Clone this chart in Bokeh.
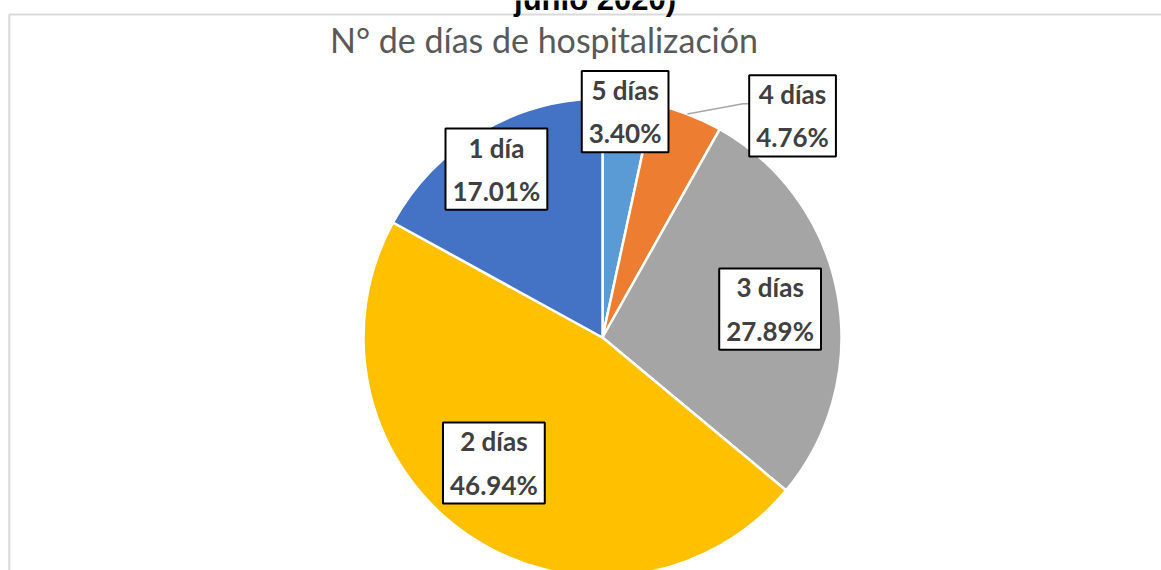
import numpy as np
from bokeh.plotting import figure
from bokeh.models import Range1d, ColumnDataSource
from bokeh.core.properties import value
from bokeh.embed import file_html
from bokeh.resources import INLINE

# ---------------- data ----------------
categories = ["5 días", "4 días", "3 días", "2 días", "1 día"]
percentages = [3.40, 4.76, 27.89, 46.94, 17.01]
colors = ["#5B9BD5", "#ED7D31", "#A5A5A5", "#FFC000", "#4472C4"]
chart_title = "N° de días de hospitalización"
cut_title = "junio 2020)"

# ---------------- layout ----------------
W, H = 1161, 570


def X(px):  # picture x -> data x
    return px


def Y(py):  # picture y -> data y
    return H - py


cx, cy, R = X(602), Y(337), 239
# label placement: distance from centre (px) and angle nudge (deg)
label_dist = [227, 292, 170, 166, 199]
label_nudge = [-0.4, 19.8, 0.8, 6.6, -1.6]

p = figure(width=W, height=H, output_backend="svg", toolbar_location=None,
           x_range=Range1d(0, W), y_range=Range1d(0, H), min_border=0)
p.axis.visible = False
p.grid.visible = False
p.outline_line_color = None
p.background_fill_color = "white"
p.border_fill_color = "white"

# chart-area border (left and top visible)
p.line(x=[X(8.8), X(8.8), 3000], y=[-100, Y(14), Y(14)], line_color="#D9D9D9", line_width=2)

# pie
frac = np.array(percentages) / sum(percentages)
cum = np.concatenate([[0.0], np.cumsum(frac)])
start = np.pi / 2 - 2 * np.pi * cum[:-1]
end = np.pi / 2 - 2 * np.pi * cum[1:]
mid = (start + end) / 2

src = ColumnDataSource(dict(start=start, end=end, color=colors, cat=categories))
p.wedge(x=cx, y=cy, radius=R, start_angle="start", end_angle="end", direction="clock",
        fill_color="color", line_color="white", line_width=2.5, source=src)

# labels
ang = mid - np.radians(label_nudge)
lx = cx + np.array(label_dist) * np.cos(ang)
ly = cy + np.array(label_dist) * np.sin(ang)
texts = [f"{c}\n{v:.2f}%" for c, v in zip(categories, percentages)]

# leader line for the 4 días label
i4 = 1
ex, ey = cx + R * np.cos(mid[i4]), cy + R * np.sin(mid[i4])
box_left = lx[i4] - 43.5
p.line(x=[ex, box_left - 6, box_left], y=[ey, ly[i4] + 12, ly[i4] + 12],
       line_color="#A6A6A6", line_width=1.5)

lsrc = ColumnDataSource(dict(x=lx, y=ly, t=texts))
p.text(x="x", y="y", text="t", source=lsrc,
       text_font=value("Lato"), text_font_style="bold", text_font_size="26px",
       text_color="#404040", text_align="center", text_baseline="middle",
       text_line_height=1.35,
       background_fill_color="white", border_line_color="black", border_line_width=2,
       padding=(7, 3))

# chart title
p.text(x=[X(543.5)], y=[Y(39)], text=[chart_title],
       text_font=value("Lato"), text_font_size="34px", text_color="#595959",
       text_align="center", text_baseline="alphabetic")

# cut-off document title above the chart
p.text(x=[X(594.5)], y=[Y(-1)], text=[cut_title],
       text_font=value("Liberation Sans"), text_font_style="bold", text_font_size="31px",
       text_color="black", text_align="center", text_baseline="alphabetic")

open("out.html", "w").write(file_html(p, INLINE))
